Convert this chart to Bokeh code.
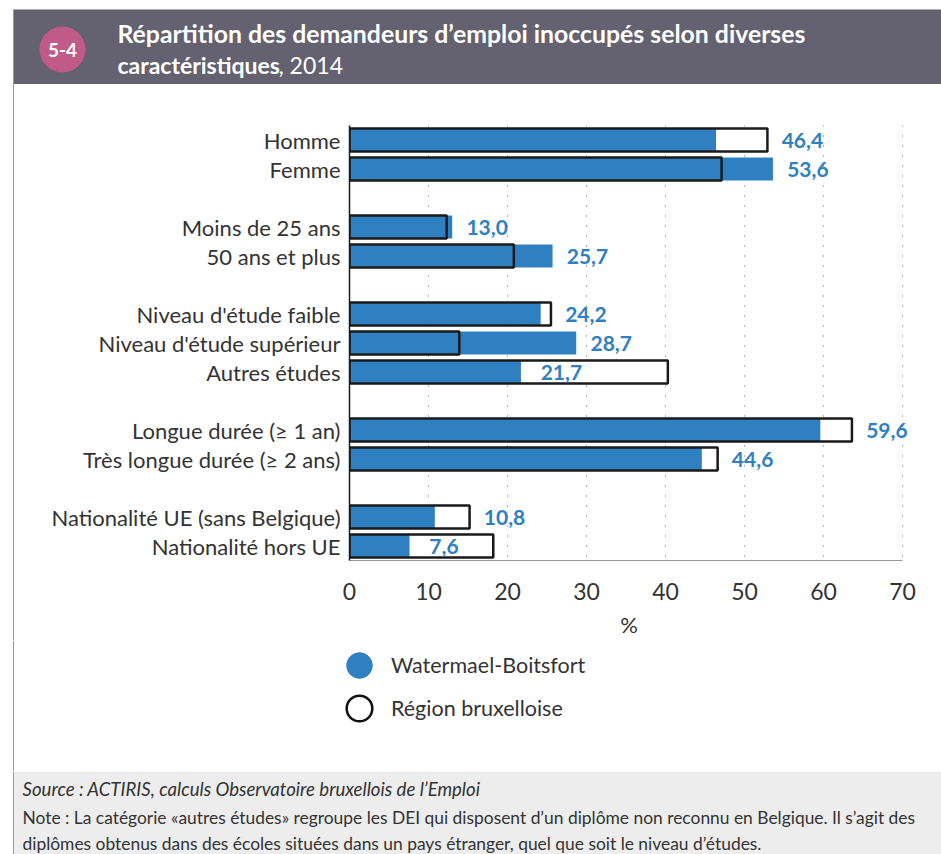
from bokeh.plotting import figure
from bokeh.models import (Range1d, FixedTicker, Legend, LegendItem, ColumnDataSource, Spacer)
from bokeh.layouts import column, row
from bokeh.core.properties import value
from bokeh.embed import file_html
from bokeh.resources import INLINE

# ---------------- data ----------------
categories = ["Homme", "Femme",
              "Moins de 25 ans", "50 ans et plus",
              "Niveau d'étude faible", "Niveau d'étude supérieur", "Autres études",
              "Longue durée (≥ 1 an)", "Très longue durée (≥ 2 ans)",
              "Nationalité UE (sans Belgique)", "Nationalité hors UE"]
groups = [0, 0, 1, 1, 2, 2, 2, 3, 3, 4, 4]
watermael = [46.4, 53.6, 13.0, 25.7, 24.2, 28.7, 21.7, 59.6, 44.6, 10.8, 7.6]
region = [52.9, 47.1, 12.3, 20.8, 25.5, 13.9, 40.3, 63.6, 46.6, 15.2, 18.2]
x_ticks = [0, 10, 20, 30, 40, 50, 60, 70]
series_names = ["Watermael-Boitsfort", "Région bruxelloise"]
badge = "5-4"
title_line1 = "Répartition des demandeurs d’emploi inoccupés selon diverses"
title_line2_bold = "caractéristiques"
title_line2_rest = ", 2014"
x_label = "%"
source_text = "Source : ACTIRIS, calculs Observatoire bruxellois de l’Emploi"
note_lines = ["Note : La catégorie «autres études» regroupe les DEI qui disposent d’un diplôme non reconnu en Belgique. Il s’agit des",
              "diplômes obtenus dans des écoles situées dans un pays étranger, quel que soit le niveau d’études."]

# ---------------- style ----------------
BLUE = "#2F80C1"
DARK = "#333333"
HEAD = "#646170"
PINK = "#C05A88"
LINE = "#9a9a9a"
FOOT = "#ECEDEC"
FONT = "Lato"
W = 941
H_HEAD, H_MAIN, H_LEG, H_FOOT = 84, 556, 131, 83
STRIP = 14
X0_PX, X70_PX, XEND_PX = 349, 902, 908     # page x of value 0, value 70, frame end


def canvas(width, height):
    """A figure whose frame is the whole canvas, in pixel units (y downward)."""
    f = figure(width=width, height=height, x_range=Range1d(0, width),
               y_range=Range1d(height, 0), output_backend="svg",
               toolbar_location=None, x_axis_location=None, y_axis_location=None,
               min_border=0)
    f.min_border_left = f.min_border_right = f.min_border_top = f.min_border_bottom = 0
    f.grid.visible = False
    f.outline_line_color = None
    f.background_fill_color = "white"
    f.border_fill_color = "white"
    return f


def txt(f, x, y, s, size, color=DARK, style="normal", align="left"):
    f.text(x=[x], y=[y], text=[s], text_font=value(FONT), text_font_size=size,
           text_font_style=style, text_color=color, text_align=align,
           text_baseline="middle")


# ---------------- header ----------------
head = canvas(W, H_HEAD)
head.quad(left=[13], right=[W], top=[9], bottom=[H_HEAD], fill_color=HEAD, line_color=None)
head.quad(left=[12.5], right=[13.5], top=[9], bottom=[H_HEAD], fill_color=LINE, line_color=None)
head.scatter(x=[62], y=[49], marker="circle", size=46, fill_color=PINK, line_color=None)
txt(head, 62, 49, badge, "19px", "white", "bold", "center")
txt(head, 117, 33, title_line1, "24.8px", "white", "bold")
txt(head, 117, 64, title_line2_bold, "23px", "white", "bold")
txt(head, 278, 64, title_line2_rest, "23px", "white", "normal")

# ---------------- left strip (frame border line) ----------------
strip = Spacer(width=STRIP, height=H_MAIN,
               styles={"box-sizing": "border-box", "border-left": "13px solid white",
                       "background-color": LINE})

# ---------------- main chart ----------------
MW = W - STRIP
pos = [i + g for i, g in enumerate(groups)]
nrows = pos[-1] + 1
px_per_unit = (X70_PX - X0_PX) / 70
x_end = 70 + (XEND_PX - X70_PX) / px_per_unit

lx, labs = [], []
for w, r in zip(watermael, region):
    if r - w < 8:
        lx.append(max(w, r) + 1.8)
    else:
        lx.append(w + 2.5)
    labs.append(f"{w:.1f}".replace(".", ","))

src = ColumnDataSource(dict(y=pos, w=watermael, r=region, lx=lx, lab=labs))

p = figure(width=MW, height=H_MAIN, x_range=Range1d(0, x_end),
           y_range=Range1d(nrows - 0.5, -0.5),
           output_backend="svg", toolbar_location=None,
           min_border_left=X0_PX - STRIP, min_border_right=MW - (XEND_PX - STRIP),
           min_border_top=125 - H_HEAD, min_border_bottom=H_HEAD + H_MAIN - 560)
p.outline_line_color = None
p.background_fill_color = "white"
p.border_fill_color = "white"

BH = 0.79
p.hbar(y="y", left=0, right="r", height=BH, source=src,
       fill_color="white", line_color=None)
p.hbar(y="y", left=0, right="w", height=BH, source=src,
       fill_color=BLUE, line_color=None)
p.hbar(y="y", left=0, right="r", height=BH, source=src,
       fill_color=None, line_color="#1a1a1a", line_width=2.5)
p.text(x="lx", y="y", text="lab", source=src, text_color=BLUE,
       text_font=value(FONT), text_font_style="bold", text_font_size="21px",
       text_baseline="middle", text_align="left")

xa = p.xaxis[0]
xa.ticker = FixedTicker(ticks=x_ticks)
xa.bounds = (0, 70)
xa.axis_line_color = LINE
xa.major_tick_line_color = None
xa.minor_tick_line_color = None
xa.major_label_text_font = FONT
xa.major_label_text_font_size = "23px"
xa.major_label_text_color = DARK
xa.major_label_standoff = 16
xa.axis_label = x_label
xa.axis_label_text_font = FONT
xa.axis_label_text_font_size = "22px"
xa.axis_label_text_font_style = "normal"
xa.axis_label_text_color = DARK
xa.axis_label_standoff = 8

ya = p.yaxis[0]
ya.ticker = FixedTicker(ticks=pos)
ya.major_label_overrides = {y: c for y, c in zip(pos, categories)}
ya.axis_line_color = "#1a1a1a"
ya.axis_line_width = 1.5
ya.major_tick_line_color = None
ya.minor_tick_line_color = None
ya.major_label_text_font = FONT
ya.major_label_text_font_size = "22px"
ya.major_label_text_color = DARK
ya.major_label_standoff = 3

p.ygrid.grid_line_color = None
p.xgrid.grid_line_color = "#666666"
p.xgrid.grid_line_dash = "1 9"
p.xgrid.grid_line_width = 1

# ---------------- legend ----------------
leg = canvas(W, H_LEG)
leg.quad(left=[12.5], right=[13.5], top=[0], bottom=[H_LEG], fill_color=LINE, line_color=None)
# legend proxies: a point kept outside the visible range so only the legend shows it
lw = leg.scatter(x=[-100], y=[-100], marker="circle", size=26, fill_color=BLUE, line_color=BLUE)
lr = leg.scatter(x=[-100], y=[-100], marker="circle", size=26, fill_color="white",
                 line_color="#111111", line_width=2.5)

GW, GH = 64, 66
for name, rend, cy in zip(series_names, [lw, lr], [665 - 640, 708 - 640]):
    top = cy - GH / 2
    lg = Legend(items=[LegendItem(label=name, renderers=[rend])],
                location=(359 - GW // 2, int(round(H_LEG - GH - top))),
                glyph_width=GW, glyph_height=GH, padding=0, margin=0,
                border_line_color=None, background_fill_alpha=0,
                label_text_font=FONT, label_text_font_size="21.5px",
                label_text_color=DARK, label_standoff=0)
    leg.add_layout(lg)

# ---------------- footer ----------------
foot = canvas(W, H_FOOT)
foot.quad(left=[13], right=[W], top=[0], bottom=[H_FOOT], fill_color=FOOT, line_color=None)
foot.quad(left=[12.5], right=[13.5], top=[0], bottom=[H_FOOT], fill_color=LINE, line_color=None)
txt(foot, 22, 788 - 771, source_text, "18.6px", DARK, "italic")
txt(foot, 22, 817 - 771, note_lines[0], "17.4px", DARK)
txt(foot, 22, 843 - 771, note_lines[1], "17.4px", DARK)

layout = column(head, row(strip, p, spacing=0), leg, foot, spacing=0)
open("out.html", "w").write(file_html(layout, INLINE))
